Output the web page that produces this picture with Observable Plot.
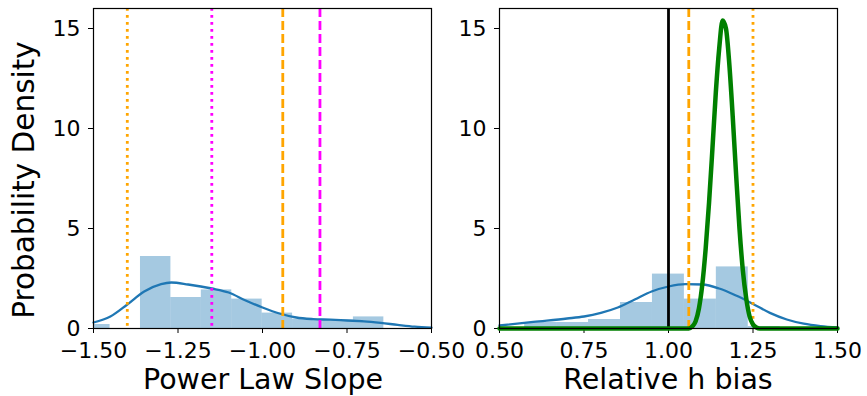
<!DOCTYPE html>
<html><head><meta charset="utf-8">
<script src="https://cdn.jsdelivr.net/npm/d3@7"></script>
<script src="https://cdn.jsdelivr.net/npm/@observablehq/plot@0.6"></script>
<style>
body{margin:0;background:#fff;}
#wrap{position:relative;width:867px;height:396px;font-family:"DejaVu Sans",sans-serif;overflow:hidden;background:#fff}
#wrap svg{position:absolute;top:0;overflow:visible}
.lab{position:absolute;font-size:28.5px;line-height:28.5px;color:#000;white-space:nowrap;transform:translateX(-50%)}
.ylab{position:absolute;font-size:29.5px;line-height:29.5px;color:#000;white-space:nowrap;transform:translate(-50%,-50%) rotate(-90deg)}
</style></head><body><div id="wrap"></div>
<script>
// ---- Left panel: Power Law Slope ----
const slopeTicks = [-1.5, -1.25, -1.0, -0.75, -0.5];
const slopeBinEdges = [-1.541, -1.451, -1.361, -1.271, -1.181, -1.091, -1.001, -0.911, -0.821, -0.731, -0.641];
const slopeBinDensity = [0.2, 0, 3.6, 1.55, 1.93, 1.47, 0.77, 0.47, 0.42, 0.58];
const slopeKdeX = [-1.5, -1.45, -1.4, -1.35, -1.3, -1.27, -1.22, -1.15, -1.1, -1.05, -1.0, -0.95, -0.9, -0.85, -0.8, -0.75, -0.7, -0.65, -0.6, -0.55, -0.5];
const slopeKdeY = [0.3, 0.6, 1.2, 1.85, 2.22, 2.3, 2.2, 2.0, 1.8, 1.4, 1.05, 0.75, 0.55, 0.47, 0.44, 0.4, 0.36, 0.28, 0.18, 0.09, 0.04];
const slopeOrangeDotted = -1.40;
const slopeMagentaDotted = -1.15;
const slopeOrangeDashed = -0.94;
const slopeMagentaDashed = -0.83;

// ---- Right panel: Relative h bias ----
const biasTicks = [0.5, 0.75, 1.0, 1.25, 1.5];
const biasBinEdges = [0.5745, 0.669, 0.7635, 0.858, 0.9525, 1.047, 1.1415, 1.236, 1.3305];
const biasBinDensity = [0.3, 0.3, 0.45, 1.3, 2.72, 1.47, 3.08, 0.1];
const biasKdeX = [0.5, 0.6, 0.7, 0.75, 0.8, 0.85, 0.9, 0.95, 1.0, 1.05, 1.1, 1.15, 1.2, 1.25, 1.3, 1.35, 1.4, 1.45, 1.5];
const biasKdeY = [0.15, 0.33, 0.5, 0.6, 0.78, 1.05, 1.45, 1.85, 2.1, 2.22, 2.2, 2.0, 1.65, 1.23, 0.78, 0.45, 0.24, 0.12, 0.05];
const biasGreenX = [0.50, 1.06, 1.07, 1.08, 1.09, 1.10, 1.11, 1.12, 1.13, 1.14, 1.15, 1.16, 1.17, 1.18, 1.19, 1.20, 1.21, 1.22, 1.23, 1.24, 1.25, 1.26, 1.27, 1.50];
const biasGreenY = [0, 0, 0.1, 0.35, 1.0, 2.2, 4.0, 6.3, 9.0, 11.8, 14.0, 15.4, 15.0, 13.2, 10.6, 7.7, 5.0, 2.9, 1.5, 0.6, 0.2, 0.05, 0, 0];
const biasBlack = 1.0;
const biasOrangeDashed = 1.06;
const biasOrangeDotted = 1.25;

const yTicks = [0, 5, 10, 15];
const xLabels = ["Power Law Slope", "Relative h bias"];
const yLabel = "Probability Density";

const BLUE = "#1f77b4";
const fmt = d3.format(".2f");

function base(opts, marks) {
  return Plot.plot({
    width: opts.width, height: 396,
    marginTop: 8, marginBottom: 68, marginLeft: opts.marginLeft, marginRight: opts.marginRight,
    style: {background: "transparent", overflow: "visible", fontFamily: "DejaVu Sans", fontSize: "22px", color: "#000"},
    x: {domain: opts.domain, ticks: opts.ticks, tickFormat: fmt, tickSize: 5, tickPadding: 9, label: null},
    y: {domain: [0, 16], ticks: yTicks, tickSize: 5, tickPadding: 8, label: null},
    marks
  });
}

function hist(edges, dens) {
  return Plot.rectY(d3.range(dens.length), {
    x1: i => edges[i], x2: i => edges[i + 1], y: i => dens[i],
    fill: BLUE, fillOpacity: 0.4, clip: true
  });
}
function kde(xs, ys) {
  return Plot.line(d3.range(xs.length), {x: i => xs[i], y: i => ys[i], stroke: BLUE, strokeWidth: 2.3, curve: "monotone-x"});
}

const left = base({width: 465, marginLeft: 93, marginRight: 34, domain: [-1.5, -0.5], ticks: slopeTicks}, [
  hist(slopeBinEdges, slopeBinDensity),
  kde(slopeKdeX, slopeKdeY),
  Plot.ruleX([slopeOrangeDotted], {stroke: "orange", strokeWidth: 2.8, strokeDasharray: "2.8,4.2"}),
  Plot.ruleX([slopeMagentaDotted], {stroke: "magenta", strokeWidth: 2.8, strokeDasharray: "2.8,4.2"}),
  Plot.ruleX([slopeOrangeDashed], {stroke: "orange", strokeWidth: 2.8, strokeDasharray: "9,4"}),
  Plot.ruleX([slopeMagentaDashed], {stroke: "magenta", strokeWidth: 2.8, strokeDasharray: "9,4"}),
  Plot.frame({stroke: "#000", strokeWidth: 1.2})
]);
left.style.left = "0px";

const right = base({width: 402, marginLeft: 34, marginRight: 30, domain: [0.5, 1.5], ticks: biasTicks}, [
  hist(biasBinEdges, biasBinDensity),
  kde(biasKdeX, biasKdeY),
  Plot.ruleX([biasBlack], {stroke: "#000", strokeWidth: 2.8}),
  Plot.ruleX([biasOrangeDashed], {stroke: "orange", strokeWidth: 2.8, strokeDasharray: "9,4"}),
  Plot.ruleX([biasOrangeDotted], {stroke: "orange", strokeWidth: 2.8, strokeDasharray: "2.8,4.2"}),
  Plot.line(d3.range(biasGreenX.length), {x: i => biasGreenX[i], y: i => biasGreenY[i], stroke: "green", strokeWidth: 4.5, curve: "monotone-x", strokeLinejoin: "round", strokeLinecap: "round"}),
  Plot.frame({stroke: "#000", strokeWidth: 1.2})
]);
right.style.left = "465px";

const wrap = document.getElementById("wrap");
wrap.append(left, right);

const l1 = document.createElement("div"); l1.className = "lab"; l1.textContent = xLabels[0];
l1.style.left = "263px"; l1.style.top = "366px";
const l2 = document.createElement("div"); l2.className = "lab"; l2.textContent = xLabels[1];
l2.style.left = "668px"; l2.style.top = "366px";
const l3 = document.createElement("div"); l3.className = "ylab"; l3.textContent = yLabel;
l3.style.left = "25px"; l3.style.top = "180px";
wrap.append(l1, l2, l3);
</script></body></html>
